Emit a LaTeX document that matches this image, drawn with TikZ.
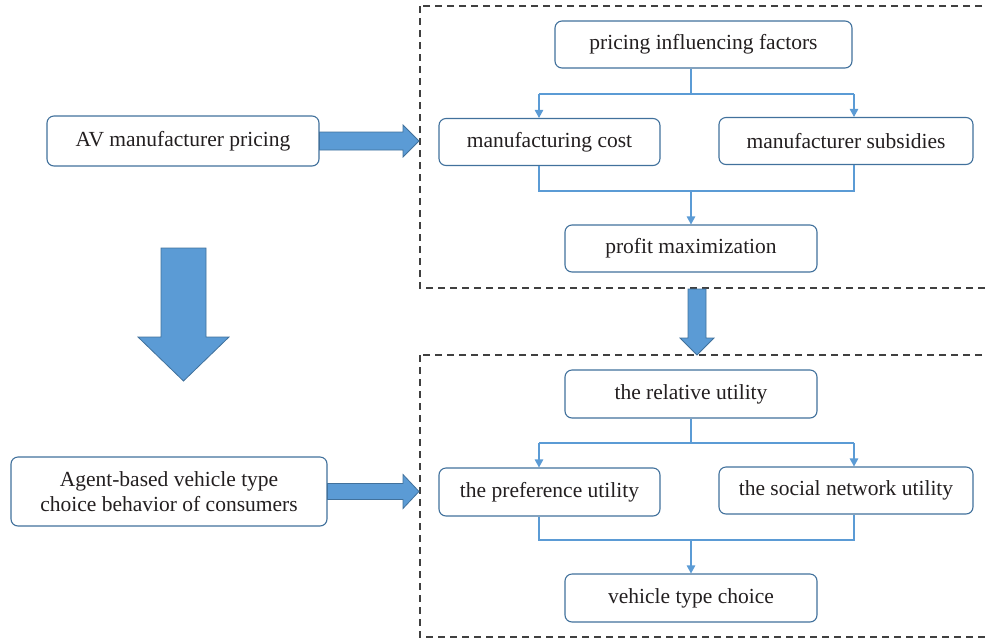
\documentclass[tikz,border=0pt]{standalone}
\usepackage{fontspec}
\setmainfont{Liberation Serif}
\usetikzlibrary{arrows.meta}
\definecolor{boxline}{HTML}{41719C}
\definecolor{flowblue}{HTML}{5B9BD5}
\definecolor{inktext}{HTML}{231F20}
\definecolor{dashgray}{HTML}{404040}
\tikzset{
  stagebox/.style={draw=boxline, line width=1.1pt, rounded corners=7pt, fill=white,
    inner sep=0pt, text=inktext, align=center,
    font=\fontsize{21.5}{25}\selectfont},
  conn/.style={draw=flowblue, line width=1.1pt},
  connarrow/.style={conn, -{Triangle[length=8pt,width=8.5pt]}},
  blockarrow/.style={fill=flowblue, draw=boxline, line width=0.8pt, line join=miter},
  groupframe/.style={draw=dashgray, line width=1.2pt, dash pattern=on 7pt off 5pt}
}
\begin{document}
\begin{tikzpicture}[x=1pt, y=-1pt]
\useasboundingbox (0,0) rectangle (986,641);

% dashed group frames (open on the right)
\coordinate (g1a) at (420,6);   \coordinate (g1b) at (995,288);
\coordinate (g2a) at (420,355); \coordinate (g2b) at (995,637);
\begin{scope}
\clip (0,0) rectangle (986,641);
\draw[groupframe] (g1a) rectangle (g1b);
\draw[groupframe] (g2a) rectangle (g2b);
\end{scope}

% left column
\node[stagebox, minimum width=272pt, minimum height=50pt] (av) at (183,141) {AV manufacturer pricing};
\node[stagebox, minimum width=316pt, minimum height=69pt] (agent) at (169,491.5)
  {Agent-based vehicle type\\choice behavior of consumers};

% pricing group
\node[stagebox, minimum width=297pt, minimum height=47pt] (pif) at (703.5,44.5) {pricing influencing factors};
\node[stagebox, minimum width=221pt, minimum height=47pt] (mc) at (549.5,142) {manufacturing cost};
\node[stagebox, minimum width=254pt, minimum height=47pt] (ms) at (846,141) {manufacturer subsidies};
\node[stagebox, minimum width=252pt, minimum height=47pt] (pm) at (691,248.5) {profit maximization};

% consumer group
\node[stagebox, minimum width=252pt, minimum height=48pt] (ru) at (691,394) {the relative utility};
\node[stagebox, minimum width=221pt, minimum height=48pt] (pu) at (549.5,492) {the preference utility};
\node[stagebox, minimum width=254pt, minimum height=47pt] (sn) at (846,490.5) {the social network utility};
\node[stagebox, minimum width=252pt, minimum height=48pt] (vc) at (691,598) {vehicle type choice};

% branch coordinates
\coordinate (s1) at (691,94);  \coordinate (s1l) at (539,94);  \coordinate (s1r) at (854,94);
\coordinate (m1) at (691,191); \coordinate (m1l) at (539,191); \coordinate (m1r) at (854,191);
\coordinate (s2) at (691,443); \coordinate (s2l) at (539,443); \coordinate (s2r) at (854,443);
\coordinate (m2) at (691,540); \coordinate (m2l) at (539,540); \coordinate (m2r) at (854,540);

% pricing group connectors
\draw[conn] (s1 |- pif.south) -- (s1);
\draw[conn] (s1l) -- (s1r);
\draw[connarrow] (s1l) -- (s1l |- mc.north);
\draw[connarrow] (s1r) -- (s1r |- ms.north);
\draw[conn] (m1l |- mc.south) -- (m1l) -- (m1r) -- (m1r |- ms.south);
\draw[connarrow] (m1) -- (pm.north);

% consumer group connectors
\draw[conn] (ru.south) -- (s2);
\draw[conn] (s2l) -- (s2r);
\draw[connarrow] (s2l) -- (s2l |- pu.north);
\draw[connarrow] (s2r) -- (s2r |- sn.north);
\draw[conn] (m2l |- pu.south) -- (m2l) -- (m2r) -- (m2r |- sn.south);
\draw[connarrow] (m2) -- (vc.north);

% block arrows
\draw[blockarrow] ([yshift=9pt]av.east) -- (403,132) -- (403,125) -- (419,141)
  -- (403,157) -- (403,150) -- ([yshift=-9pt]av.east) -- cycle;
\draw[blockarrow] ([yshift=8pt]agent.east) -- (403,483.5) -- (403,474.5) -- (419,491.5)
  -- (403,508.5) -- (403,499.5) -- ([yshift=-8pt]agent.east) -- cycle;
\draw[blockarrow] (161,248) -- (206,248) -- (206,337) -- (229,337) -- (183.5,381)
  -- (138,337) -- (161,337) -- cycle;
\draw[blockarrow] (688,289) -- (706,289) -- (706,338) -- (714,338) -- (697,355)
  -- (680,338) -- (688,338) -- cycle;
\end{tikzpicture}
\end{document}
